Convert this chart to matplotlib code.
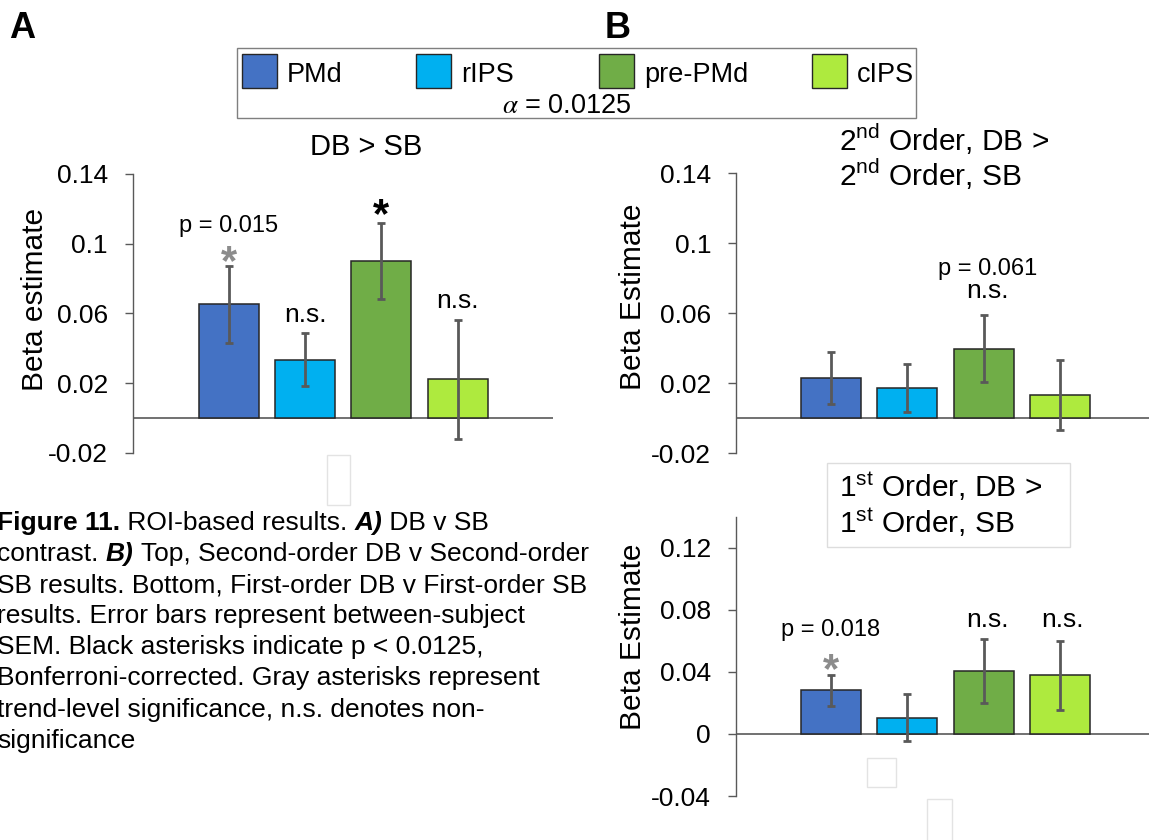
import matplotlib
matplotlib.use("Agg")
import matplotlib.pyplot as plt
from matplotlib.patches import Rectangle

plt.rcParams['font.family'] = ['Liberation Sans', 'DejaVu Sans']
plt.rcParams['mathtext.fontset'] = 'custom'
plt.rcParams['mathtext.rm'] = 'Liberation Sans'

W, H = 1149, 840

# ROI order and colours
regions = ["PMd", "rIPS", "pre-PMd", "cIPS"]
colors = ["#4472C4", "#00B0F0", "#70AD47", "#AEEA3E"]

# A) DB > SB
a_vals = [0.0652, 0.0336, 0.0902, 0.0222]
a_err = [0.0222, 0.0150, 0.0218, 0.0342]

# B top) 2nd order DB > 2nd order SB
b2_vals = [0.0229, 0.0175, 0.0398, 0.0131]
b2_err = [0.0149, 0.0137, 0.0192, 0.0200]

# B bottom) 1st order DB > 1st order SB
b1_vals = [0.0281, 0.0105, 0.0405, 0.0379]
b1_err = [0.0100, 0.0150, 0.0206, 0.0222]

ab_ticks = [-0.02, 0.02, 0.06, 0.1, 0.14]
ab_ticklabels = ["-0.02", "0.02", "0.06", "0.1", "0.14"]
b1_ticks = [-0.04, 0, 0.04, 0.08, 0.12]
b1_ticklabels = ["-0.04", "0", "0.04", "0.08", "0.12"]

caption = [
    [("Figure 11.", "bold", "normal"), (" ROI-based results. ", "normal", "normal"),
     ("A)", "bold", "italic"), (" DB v SB", "normal", "normal")],
    [("contrast. ", "normal", "normal"), ("B)", "bold", "italic"),
     (" Top, Second-order DB v Second-order", "normal", "normal")],
    [("SB results. Bottom, First-order DB v First-order SB", "normal", "normal")],
    [("results. Error bars represent between-subject", "normal", "normal")],
    [("SEM. Black asterisks indicate p < 0.0125,", "normal", "normal")],
    [("Bonferroni-corrected. Gray asterisks represent", "normal", "normal")],
    [("trend-level significance, n.s. denotes non-", "normal", "normal")],
    [("significance", "normal", "normal")],
]

fig = plt.figure(figsize=(W / 100, H / 100), dpi=100)
renderer = fig.canvas.get_renderer()

GRAY = "#595959"
STAR_GRAY = "#8C8C8C"


def fx(px):
    return px / W


def fy(py):
    return 1 - py / H


def make_axes(rect_px, vals, errs, ylim, ticks, ticklabels, xlim):
    l, t, r, b = rect_px
    ax = fig.add_axes([fx(l), fy(b), (r - l) / W, (b - t) / H])
    x = range(len(vals))
    ax.bar(x, vals, width=0.786, color=colors, edgecolor="#262626", linewidth=1.1, zorder=2)
    ax.errorbar(x, vals, yerr=errs, fmt="none", ecolor=GRAY, elinewidth=2.0,
                capsize=2.6, capthick=2.0, zorder=3)
    ax.axhline(0, color=GRAY, linewidth=1.2, zorder=1)
    ax.set_xlim(*xlim)
    ax.set_ylim(*ylim)
    ax.set_yticks(ticks)
    ax.set_yticklabels(ticklabels)
    ax.set_xticks([])
    for s in ["top", "right", "bottom"]:
        ax.spines[s].set_visible(False)
    ax.spines["left"].set_color(GRAY)
    ax.spines["left"].set_linewidth(1.0)
    ax.tick_params(axis="y", direction="out", length=6, width=1.0, color=GRAY,
                   pad=12, labelsize=19)
    ax.patch.set_alpha(0)
    return ax


axA = make_axes((133, 174, 553, 453), a_vals, a_err, (-0.02, 0.14), ab_ticks, ab_ticklabels,
                (-1.258, 4.25))
axB2 = make_axes((736, 173.3, 1149, 453.3), b2_vals, b2_err, (-0.02, 0.14), ab_ticks,
                 ab_ticklabels, (-1.245, 4.168))
axB1 = make_axes((736, 516.7, 1149, 796), b1_vals, b1_err, (-0.04, 0.14), b1_ticks,
                 b1_ticklabels, (-1.245, 4.168))

# significance labels
axA.text(0, 0.1065, "p = 0.015", ha="center", va="baseline", fontsize=17)
axA.text(0, 0.0825, "*", ha="center", va="baseline", fontsize=30, fontweight="bold", color=STAR_GRAY)
axA.text(1, 0.0554, "n.s.", ha="center", va="baseline", fontsize=19)
axA.text(2, 0.1095, "*", ha="center", va="baseline", fontsize=30, fontweight="bold", color="black")
axA.text(3, 0.0631, "n.s.", ha="center", va="baseline", fontsize=19)

axB2.text(2.05, 0.0817, "p = 0.061", ha="center", va="baseline", fontsize=17)
axB2.text(2.05, 0.0688, "n.s.", ha="center", va="baseline", fontsize=19)

axB1.text(0, 0.0630, "p = 0.018", ha="center", va="baseline", fontsize=17)
axB1.text(0, 0.0333, "*", ha="center", va="baseline", fontsize=30, fontweight="bold", color=STAR_GRAY)
axB1.text(2.05, 0.0688, "n.s.", ha="center", va="baseline", fontsize=19)
axB1.text(3.03, 0.0688, "n.s.", ha="center", va="baseline", fontsize=19)

# y labels
fig.text(fx(35), fy(299), "Beta estimate", rotation=90, ha="center", va="center", fontsize=21.5)
fig.text(fx(633), fy(296.5), "Beta Estimate", rotation=90, ha="center", va="center", fontsize=21.5)
fig.text(fx(633), fy(637), "Beta Estimate", rotation=90, ha="center", va="center", fontsize=21.5)

# panel letters
fig.text(fx(9), fy(38.5), "A", fontsize=26, fontweight="bold", va="baseline")
fig.text(fx(605), fy(38.5), "B", fontsize=26, fontweight="bold", va="baseline")

# titles
fig.text(fx(366), fy(155), "DB > SB", ha="center", va="baseline", fontsize=21)
fig.text(fx(839), fy(150.7), r"2$^{\mathrm{nd}}$ Order, DB >", va="baseline", fontsize=21.5)
fig.text(fx(839), fy(185.7), r"2$^{\mathrm{nd}}$ Order, SB", va="baseline", fontsize=21.5)
fig.patches.append(Rectangle((fx(827), fy(547.3)), (1070 - 827) / W, (547.3 - 462.7) / H,
                             transform=fig.transFigure, facecolor="white", edgecolor="#DDDDDD",
                             linewidth=1.0, zorder=0))
fig.text(fx(839), fy(497.3), r"1$^{\mathrm{st}}$ Order, DB >", va="baseline", fontsize=21.5)
fig.text(fx(839), fy(533.3), r"1$^{\mathrm{st}}$ Order, SB", va="baseline", fontsize=21.5)

# legend box
fig.patches.append(Rectangle((fx(237), fy(118.3)), (916 - 237) / W, (118.3 - 48.3) / H,
                             transform=fig.transFigure, facecolor="white", edgecolor="#7F7F7F",
                             linewidth=1.0, zorder=0))
patch_x = [242, 416, 599, 812]
for name, c, px in zip(regions, colors, patch_x):
    fig.patches.append(Rectangle((fx(px), fy(88)), 35 / W, 34 / H, transform=fig.transFigure,
                                 facecolor=c, edgecolor="#262626", linewidth=1.0))
    fig.text(fx(px + 45), fy(81.7), name, va="baseline", fontsize=19.5)
fig.text(fx(567), fy(113.3), r"$\alpha$ = 0.0125", ha="center", va="baseline", fontsize=19.5,
         math_fontfamily="stix")

# faint empty boxes left over in the original figure
for (l, t, r, b) in [(327, 455, 350, 505), (867, 758, 896, 787), (927, 799, 952, 845)]:
    fig.patches.append(Rectangle((fx(l), fy(b)), (r - l) / W, (b - t) / H, transform=fig.transFigure,
                                 facecolor="white", edgecolor="#E3E3E3", linewidth=1.0))

# caption, written run by run so bold / italic pieces line up
base = 530
for i, line in enumerate(caption):
    x = -3
    y = base + i * 31.1
    for s, wgt, sty in line:
        t = fig.text(fx(x), fy(y), s, fontsize=19, fontweight=wgt, fontstyle=sty,
                     va="baseline", ha="left")
        x += t.get_window_extent(renderer=renderer).width

fig.savefig("out.png", dpi=100)
